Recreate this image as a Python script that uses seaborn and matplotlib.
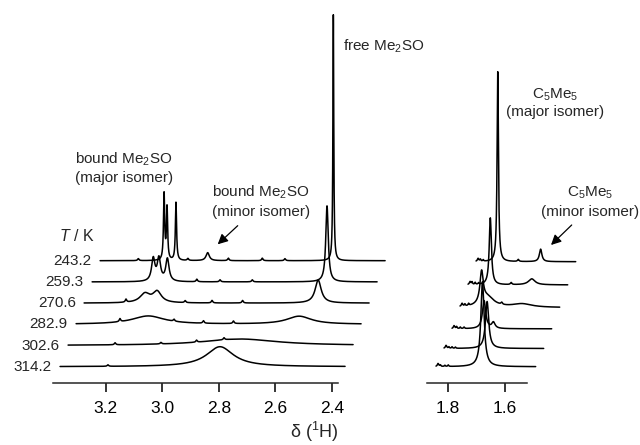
import numpy as np
import matplotlib
matplotlib.use('Agg')
import matplotlib.pyplot as plt
import seaborn as sns

# temperatures, bottom trace first
temps = ['314.2', '302.6', '282.9', '270.6', '259.3', '243.2']

# peaks: (ppm, height, half width in ppm)
# Me2SO region
left_3142 = [(2.796, 20, 0.058), (3.192, 1.5, 0.003)]
left_3026 = [(2.754, 6.5, 0.16), (3.195, 2, 0.003), (3.033, 1.5, 0.003),
             (2.907, 2, 0.003), (2.810, 2, 0.003)]
left_2829 = [(3.106, 8.3, 0.07), (2.573, 8, 0.053), (3.206, 3, 0.003),
             (3.015, 2, 0.003), (2.911, 2.5, 0.003), (2.805, 2.5, 0.003)]
left_2706 = [(3.146, 9, 0.021), (3.103, 11, 0.018), (2.534, 23, 0.013),
             (3.213, 3, 0.003), (3.004, 2, 0.003), (2.909, 2.5, 0.003),
             (2.801, 2.5, 0.003)]
left_2593 = [(3.145, 22.5, 0.007), (3.125, 22.5, 0.007), (3.095, 22.5, 0.007),
             (2.991, 2.5, 0.003), (2.909, 2, 0.003), (2.795, 2, 0.003),
             (2.531, 76, 0.0053)]
left_2432 = [(3.135, 66, 0.0025), (3.1245, 52, 0.0025), (3.093, 58, 0.0025),
             (2.981, 8, 0.007), (3.226, 2, 0.003), (3.051, 2, 0.003),
             (2.908, 2.5, 0.003), (2.788, 2.5, 0.003), (2.708, 2, 0.003),
             (2.537, 246, 0.0018)]

# C5Me5 region
right_3142 = [(1.679, 85, 0.007), (1.836, 3, 0.003), (1.828, 1.5, 0.002),
              (1.812, 1.2, 0.002), (1.800, 1.5, 0.002)]
right_3026 = [(1.691, 47, 0.007), (1.836, 3, 0.003), (1.826, 1.5, 0.002),
              (1.815, 1.5, 0.002), (1.803, 1.2, 0.002)]
right_2829 = [(1.730, 28, 0.007), (1.697, 6, 0.007), (1.836, 3, 0.003),
              (1.827, 2, 0.002), (1.814, 1.5, 0.002), (1.801, 1.5, 0.002)]
right_2706 = [(1.767, 31, 0.007), (1.746, 10, 0.028), (1.696, 2, 0.003),
              (1.624, 3.5, 0.042), (1.836, 3, 0.003), (1.826, 2, 0.002),
              (1.813, 2, 0.002)]
right_2593 = [(1.7645, 67, 0.0046), (1.691, 2, 0.003), (1.618, 6, 0.014),
              (1.836, 3, 0.003), (1.829, 2.5, 0.002), (1.818, 2, 0.002),
              (1.806, 1.5, 0.002)]
right_2432 = [(1.7665, 190, 0.0028), (1.694, 2, 0.003), (1.615, 12.5, 0.0053),
              (1.836, 3, 0.003), (1.828, 2, 0.002), (1.818, 1.5, 0.002)]
right_drop = [0, -3, -4.5, -4.5, -3, -1]

left_sets = [left_3142, left_3026, left_2829, left_2706, left_2593, left_2432]
right_sets = [right_3142, right_3026, right_2829, right_2706, right_2593, right_2432]

shift_x = 0.0283   # ppm each trace moves right
shift_y = 21.2     # each trace moves up
base_y = 16.6


def lorentz(x, peaks):
    y = np.zeros_like(x)
    for p, h, w in peaks:
        y += h / (1 + ((x - p) / w) ** 2)
    return y


sns.set_style('ticks')
plt.rcParams['font.family'] = ['Liberation Sans', 'DejaVu Sans']
plt.rcParams['mathtext.fontset'] = 'custom'
plt.rcParams['mathtext.rm'] = 'Liberation Sans'
plt.rcParams['mathtext.it'] = 'Liberation Sans:italic'

fig = plt.figure(figsize=(6.4, 4.45), dpi=100)
bot, hgt = 61.7 / 445, 378.3 / 445
axl = fig.add_axes([53 / 640, bot, 285 / 640, hgt])
axr = fig.add_axes([427.3 / 640, bot, 100 / 640, hgt])

xl = np.linspace(3.361, 2.354, 6000)
xr = np.linspace(1.8433, 1.491, 3000)
for i in range(len(temps)):
    yl = lorentz(xl, left_sets[i]) + base_y + shift_y * i
    sns.lineplot(x=xl - shift_x * i, y=yl, ax=axl, color='black', lw=1.1,
                 clip_on=False, sort=False, estimator=None)
    yr = lorentz(xr, right_sets[i]) + base_y + shift_y * i + right_drop[i]
    sns.lineplot(x=xr - shift_x * i, y=yr, ax=axr, color='black', lw=1.1,
                 clip_on=False, sort=False, estimator=None)
    axl.annotate(temps[i], xy=(xl[0] - shift_x * i, base_y + shift_y * i),
                 xytext=(-6, 0), textcoords='offset points', ha='right',
                 va='center', fontsize=11, annotation_clip=False)

axl.set_xlim(3.386, 2.379)
axr.set_xlim(1.874, 1.5206)
for ax in (axl, axr):
    ax.set_ylim(0, 378.3)
    ax.set_yticks([])
    ax.set_xlabel('')
    ax.set_ylabel('')
    for s in ('left', 'top', 'right'):
        ax.spines[s].set_visible(False)
    ax.spines['bottom'].set_linewidth(1.1)
    ax.tick_params(axis='x', direction='out', length=6.5, width=1.1,
                   labelsize=12.5, pad=6, colors='black')
    ax.patch.set_alpha(0)
axl.set_xticks([3.2, 3.0, 2.8, 2.6, 2.4])
axl.set_xticklabels(['3.2', '3.0', '2.8', '2.6', '2.4'])
axr.set_xticks([1.8, 1.6])
axr.set_xticklabels(['1.8', '1.6'])


def px(x, y):
    return x / 640, 1 - y / 445


fig.text(*px(124, 159), 'bound Me$_2$SO', ha='center', va='center', fontsize=11)
fig.text(*px(124, 178), '(major isomer)', ha='center', va='center', fontsize=11)
fig.text(*px(261, 192), 'bound Me$_2$SO', ha='center', va='center', fontsize=11)
fig.text(*px(261, 212), '(minor isomer)', ha='center', va='center', fontsize=11)
fig.text(*px(343, 46), 'free Me$_2$SO', ha='left', va='center', fontsize=11)
fig.text(*px(555, 95), 'C$_5$Me$_5$', ha='center', va='center', fontsize=11)
fig.text(*px(555, 112), '(major isomer)', ha='center', va='center', fontsize=11)
fig.text(*px(590, 193), 'C$_5$Me$_5$', ha='center', va='center', fontsize=11)
fig.text(*px(590, 212), '(minor isomer)', ha='center', va='center', fontsize=11)
fig.text(*px(77, 236), '$T$ / K', ha='center', va='center', fontsize=11.5)
fig.text(*px(314, 432), 'δ ($^1$H)', ha='center', va='center', fontsize=13)

arrow = dict(arrowstyle='-|>,head_length=0.5,head_width=0.25', color='black',
             lw=0.9, shrinkA=0, shrinkB=0, mutation_scale=12)
axl.annotate('', xy=px(217.7, 244.3), xycoords='figure fraction',
             xytext=px(237.7, 225.7), textcoords='figure fraction', arrowprops=arrow)
axl.annotate('', xy=px(551, 245), xycoords='figure fraction',
             xytext=px(571.7, 225), textcoords='figure fraction', arrowprops=arrow)

plt.savefig('out.png', dpi=100, facecolor='white')
